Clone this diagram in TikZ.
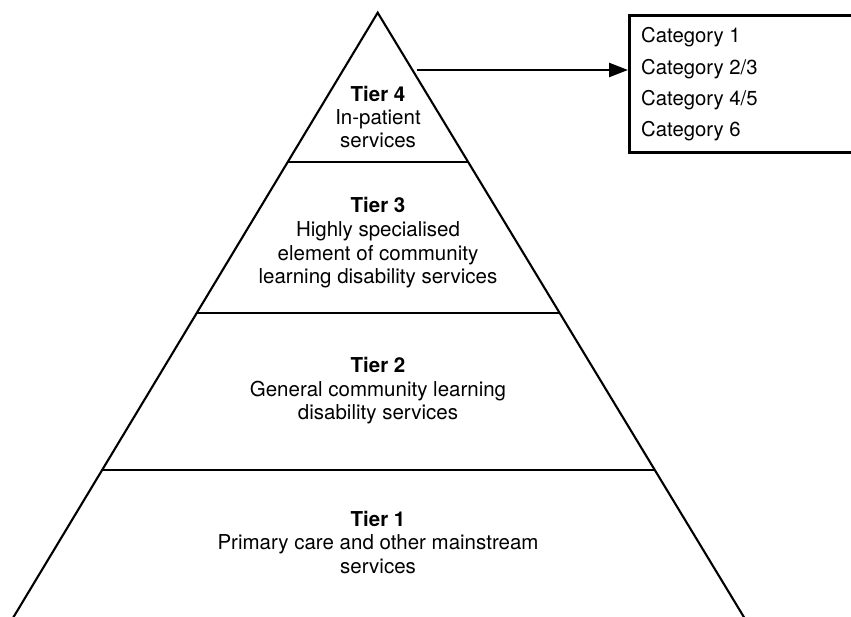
\documentclass[tikz,border=0pt]{standalone}
\usepackage{fontspec}
\setmainfont{TeX Gyre Heros}
\usetikzlibrary{arrows.meta}
\begin{document}
\begin{tikzpicture}[x=1pt,y=-1pt,
  side/.style={line width=2.1pt},
  sep/.style={line width=2.5pt},
  lbl/.style={anchor=base,inner sep=0pt,font=\fontsize{20.5}{23}\selectfont},
  ttl/.style={lbl,font=\fontsize{20.5}{23}\selectfont\bfseries},
  cat/.style={anchor=base west,inner sep=0pt,font=\fontsize{20.3}{23}\selectfont},
  catbox/.style={draw,line width=2.8pt,anchor=north west,minimum width=260pt,minimum height=137pt,inner sep=0pt},
  arr/.style={line width=2.5pt,-{Triangle[length=19pt,width=14pt]}}]
\useasboundingbox (0,0) rectangle (851,617);
\clip (0,0) rectangle (851,617);
% pyramid
\coordinate (A) at (377.7,12.7);
\coordinate (BL) at (-0.3,640);
\coordinate (BR) at (757.8,640);
\draw[side,line join=miter] (BL) -- (A) -- (BR);
\coordinate (l4) at (287.7,162); \coordinate (r4) at (468.2,162);
\coordinate (l3) at (196.8,313); \coordinate (r3) at (559.7,313);
\coordinate (l2) at (102.2,470); \coordinate (r2) at (654.8,470);
\draw[sep] (l4) -- (r4);
\draw[sep] (l3) -- (r3);
\draw[sep] (l2) -- (r2);
% tier texts
\node[ttl] (t4a) at (378,102) {Tier 4};
\node[lbl] (t4b) at (378,125) {In-patient};
\node[lbl] (t4c) at (378,148) {services};
\node[ttl] (t3a) at (378,213) {Tier 3};
\node[lbl] (t3b) at (378,237) {Highly specialised};
\node[lbl] (t3c) at (378,260.5) {element of community};
\node[lbl] (t3d) at (378,284) {learning disability services};
\node[ttl] (t2a) at (378,373) {Tier 2};
\node[lbl] (t2b) at (378,396) {General community learning};
\node[lbl] (t2c) at (378,419.5) {disability services};
\node[ttl] (t1a) at (378,526) {Tier 1};
\node[lbl] (t1b) at (378,549.5) {Primary care and other mainstream};
\node[lbl] (t1c) at (378,573) {services};
% category box
\node[catbox] (box) at (628,14) {};
\node[cat] (c1) at (641,43) {Category 1};
\node[cat] (c2) at (641,75) {Category 2/3};
\node[cat] (c3) at (641,106) {Category 4/5};
\node[cat] (c4) at (641,137) {Category 6};
% arrow
\coordinate (as) at (417,70);
\draw[arr] (as) -- (as -| box.west);
\end{tikzpicture}
\end{document}
